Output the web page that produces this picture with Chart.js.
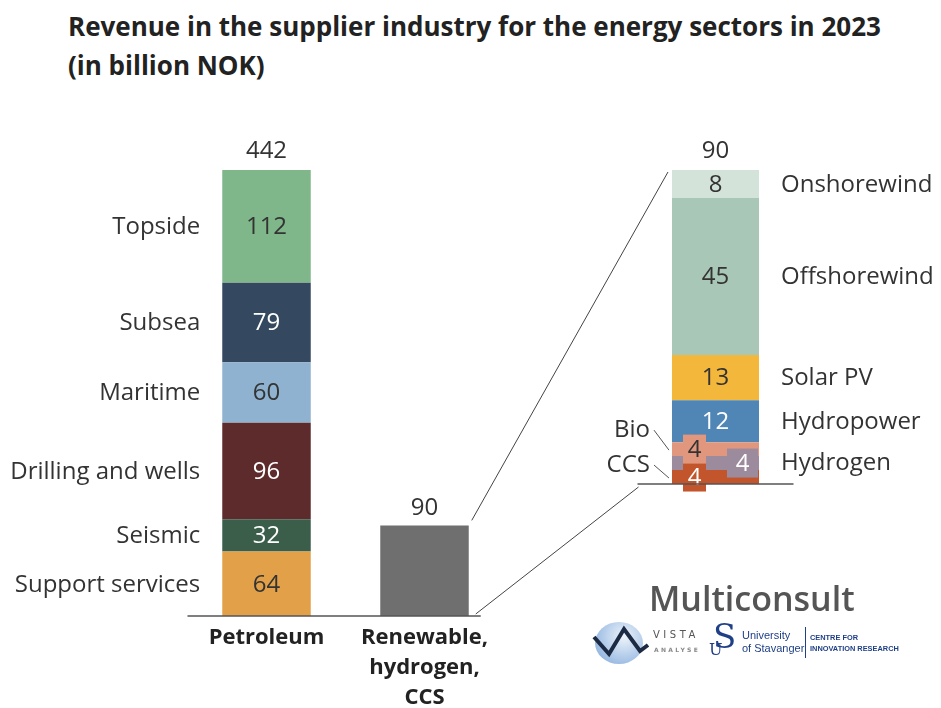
<!DOCTYPE html>
<html>
<head>
<meta charset="utf-8">
<script src="https://cdn.jsdelivr.net/npm/chart.js@4.4.1/dist/chart.umd.min.js"></script>
<style>
  body { margin: 0; background: #fff; }
  #wrap { position: relative; width: 941px; height: 708px; overflow: hidden; font-family: "Open Sans", sans-serif; }
  canvas { position: absolute; left: 0; top: 0; }
  #title { position: absolute; left: 68px; top: 7px; font-family: "Open Sans", sans-serif; font-weight: 700; font-size: 26px; line-height: 39px; color: #222; }
  .logo { position: absolute; }
</style>
</head>
<body>
<div id="wrap">
  <div id="title">Revenue in the supplier industry for the energy sectors in 2023<br>(in billion NOK)</div>
  <canvas id="mainChart" width="941" height="708"></canvas>
  <canvas id="zoomChart" width="941" height="708"></canvas>

  <!-- logos -->
  <div class="logo" style="left:649px; top:575px; font-family:'Open Sans',sans-serif; font-weight:600; font-size:34px; color:#555;">Multiconsult</div>
  <div class="logo" style="left:595px; top:622px; width:48px; height:42px; border-radius:50%; background:radial-gradient(circle at 60% 35%, #eef4fb, #a3c1e5 65%, #7ea6d6);"></div>
  <svg class="logo" style="left:591px; top:620px;" width="66" height="46">
    <polyline points="3,17 18,34 33,9 49,31 57,25" fill="none" stroke="#1c2a44" stroke-width="4"/>
  </svg>
  <div class="logo" style="left:653px; top:629px; font-family:'DejaVu Sans',sans-serif; font-size:10px; letter-spacing:3.5px; color:#555;">VISTA</div>
  <div class="logo" style="left:654px; top:646px; font-family:'DejaVu Sans',sans-serif; font-weight:700; font-size:6px; letter-spacing:2.3px; color:#888;">ANALYSE</div>
  <div class="logo" style="left:713px; top:616px; font-family:'DejaVu Serif',serif; font-size:34px; color:#1f3f86;">S</div>
  <div class="logo" style="left:709px; top:640px; font-family:'DejaVu Serif',serif; font-size:16px; color:#1f3f86;">U</div>
  <div class="logo" style="left:742px; top:629px; font-family:'Liberation Sans',sans-serif; font-size:11px; line-height:13px; color:#1f3f86;">University<br>of Stavanger</div>
  <div class="logo" style="left:805px; top:627px; width:1px; height:31px; background:#1f3f86;"></div>
  <div class="logo" style="left:810px; top:632px; font-family:'Liberation Sans',sans-serif; font-weight:700; font-size:7.4px; line-height:11px; color:#1f3f86;">CENTRE FOR<br>INNOVATION RESEARCH</div>
</div>

<script>
// categories on the x axis
const categories = ['Petroleum', ['Renewable,', 'hydrogen,', 'CCS']];

// petroleum breakdown, bottom to top
const petroleumSegments = ['Support services', 'Seismic', 'Drilling and wells', 'Maritime', 'Subsea', 'Topside'];
const petroleumValues = [64, 32, 96, 60, 79, 112];

// totals shown above the two bars
const totals = [442, 90];

// renewable, hydrogen and CCS breakdown, bottom to top
const greenSegments = ['CCS', 'Hydrogen', 'Bio', 'Hydropower', 'Solar PV', 'Offshorewind', 'Onshorewind'];
const greenValues = [4, 4, 4, 12, 13, 45, 8];

// colours
const petroleumColors = ['#e2a148', '#3b5e4b', '#5d2b2c', '#8eb2cf', '#34495f', '#7fb68a'];
const petroleumTextColors = ['#333', '#fff', '#fff', '#333', '#fff', '#333'];
const renewableColor = '#6f6f6f';
const greenColors = ['#c2552c', '#9c8b9c', '#e1977d', '#4f86b5', '#f3b73b', '#a8c7b6', '#d4e3da'];
const greenTextColors = ['#fff', '#fff', '#333', '#fff', '#333', '#333', '#333'];

const labelFont = '24px "Open Sans"';
const textColor = '#333';

let mainChart = null;

function drawText(ctx, txt, x, y, color, align) {
    ctx.fillStyle = color;
    ctx.textAlign = align || 'center';
    ctx.textBaseline = 'middle';
    ctx.fillText(txt, x, y);
}

// labels for the left chart: values inside segments, names to the left, totals on top
const mainLabels = {
    id: 'mainLabels',
    afterDatasetsDraw(chart) {
        const ctx = chart.ctx;
        ctx.save();
        ctx.font = labelFont;
        petroleumSegments.forEach((name, i) => {
            const bar = chart.getDatasetMeta(i).data[0];
            const cy = (bar.y + bar.base) / 2 + 1;
            drawText(ctx, String(petroleumValues[i]), bar.x, cy, petroleumTextColors[i]);
            drawText(ctx, name, bar.x - bar.width / 2 - 22, cy, textColor, 'right');
        });
        const topBar = chart.getDatasetMeta(petroleumSegments.length - 1).data[0];
        drawText(ctx, String(totals[0]), topBar.x, topBar.y - 19, textColor);
        const rBar = chart.getDatasetMeta(petroleumSegments.length).data[1];
        drawText(ctx, String(totals[1]), rBar.x, rBar.y - 17, textColor);

        // baseline
        const area = chart.chartArea;
        ctx.strokeStyle = '#555';
        ctx.lineWidth = 1.5;
        ctx.beginPath();
        ctx.moveTo(area.left, area.bottom);
        ctx.lineTo(rBar.x + rBar.width / 2 + 12, area.bottom);
        ctx.stroke();
        ctx.restore();
    }
};

// special boxes for the three small segments at the bottom of the zoom bar
const smallBoxes = {
    'CCS': { dx: -21, w: 23, side: 'left', ny: -12 },
    'Hydrogen': { dx: 27, w: 31, side: 'right', ny: 0 },
    'Bio': { dx: -21, w: 23, side: 'left', ny: -19 }
};

const zoomLabels = {
    id: 'zoomLabels',
    afterDatasetsDraw(chart) {
        const ctx = chart.ctx;
        ctx.save();
        ctx.font = labelFont;
        const area = chart.chartArea;

        greenSegments.forEach((name, i) => {
            const bar = chart.getDatasetMeta(i).data[0];
            const cy = (bar.y + bar.base) / 2;
            const left = bar.x - bar.width / 2;
            const right = bar.x + bar.width / 2;
            const box = smallBoxes[name];
            if (box) {
                ctx.fillStyle = greenColors[i];
                ctx.fillRect(bar.x + box.dx - box.w / 2, cy - 14.5, box.w, 29);
                drawText(ctx, String(greenValues[i]), bar.x + box.dx, cy + 1, greenTextColors[i]);
                if (box.side === 'left') {
                    const ny = cy + box.ny;
                    drawText(ctx, name, left - 22, ny, textColor, 'right');
                    ctx.strokeStyle = '#555';
                    ctx.lineWidth = 1;
                    ctx.beginPath();
                    ctx.moveTo(left - 18, ny);
                    ctx.lineTo(left - 3, cy + 1);
                    ctx.stroke();
                } else {
                    drawText(ctx, name, right + 22, cy, textColor, 'left');
                }
            } else {
                drawText(ctx, String(greenValues[i]), bar.x, cy + 1, greenTextColors[i]);
                drawText(ctx, name, right + 22, cy + 1, textColor, 'left');
            }
        });

        const topBar = chart.getDatasetMeta(greenSegments.length - 1).data[0];
        drawText(ctx, String(totals[1]), topBar.x, topBar.y - 19, textColor);

        // baseline of the zoom bar
        ctx.strokeStyle = '#555';
        ctx.lineWidth = 1.5;
        ctx.beginPath();
        ctx.moveTo(area.left + 2, area.bottom);
        ctx.lineTo(area.right - 2, area.bottom);
        ctx.stroke();

        // connector lines from the grey bar to the zoom bar
        if (mainChart) {
            const rBar = mainChart.getDatasetMeta(petroleumSegments.length).data[1];
            const rRight = rBar.x + rBar.width / 2;
            const zLeft = topBar.x - topBar.width / 2;
            ctx.lineWidth = 1;
            ctx.strokeStyle = '#444';
            ctx.beginPath();
            ctx.moveTo(rRight + 3, rBar.y - 5);
            ctx.lineTo(zLeft - 4, topBar.y + 2);
            ctx.moveTo(rRight + 7, mainChart.chartArea.bottom - 2);
            ctx.lineTo(area.left + 3, area.bottom + 3);
            ctx.stroke();
        }
        ctx.restore();
    }
};

const mainDatasets = petroleumSegments.map((name, i) => ({
    label: name,
    data: [petroleumValues[i], null],
    backgroundColor: petroleumColors[i],
    stack: 'all',
    barPercentage: 0.56,
    categoryPercentage: 1
}));
mainDatasets.push({
    label: 'Renewable, hydrogen, CCS',
    data: [null, totals[1]],
    backgroundColor: renewableColor,
    stack: 'all',
    barPercentage: 0.56,
    categoryPercentage: 1
});

mainChart = new Chart(document.getElementById('mainChart'), {
    type: 'bar',
    data: { labels: categories, datasets: mainDatasets },
    options: {
        responsive: false,
        animation: false,
        layout: { padding: { left: 187.5, right: 437.5, top: 170, bottom: 0 } },
        plugins: { legend: { display: false }, tooltip: { enabled: false } },
        scales: {
            x: {
                stacked: true,
                grid: { display: false, drawTicks: false },
                border: { display: false },
                ticks: {
                    color: '#222',
                    padding: 7,
                    maxRotation: 0,
                    autoSkip: false,
                    font: { family: 'Open Sans', size: 22, weight: 'bold', lineHeight: 1.36 }
                },
                afterFit: (scale) => { scale.height = 92; }
            },
            y: { stacked: true, display: false, min: 0, max: 443 }
        }
    },
    plugins: [mainLabels]
});

new Chart(document.getElementById('zoomChart'), {
    type: 'bar',
    data: {
        labels: ['Renewable, hydrogen, CCS'],
        datasets: greenSegments.map((name, i) => ({
            label: name,
            data: [greenValues[i]],
            backgroundColor: greenColors[i],
            stack: 'green',
            barPercentage: 0.544,
            categoryPercentage: 1
        }))
    },
    options: {
        responsive: false,
        animation: false,
        layout: { padding: { left: 635.5, right: 145.5, top: 170, bottom: 224 } },
        plugins: { legend: { display: false }, tooltip: { enabled: false } },
        scales: {
            x: { stacked: true, display: false },
            y: { stacked: true, display: false, min: 0, max: 90 }
        }
    },
    plugins: [zoomLabels]
});
</script>
</body>
</html>
